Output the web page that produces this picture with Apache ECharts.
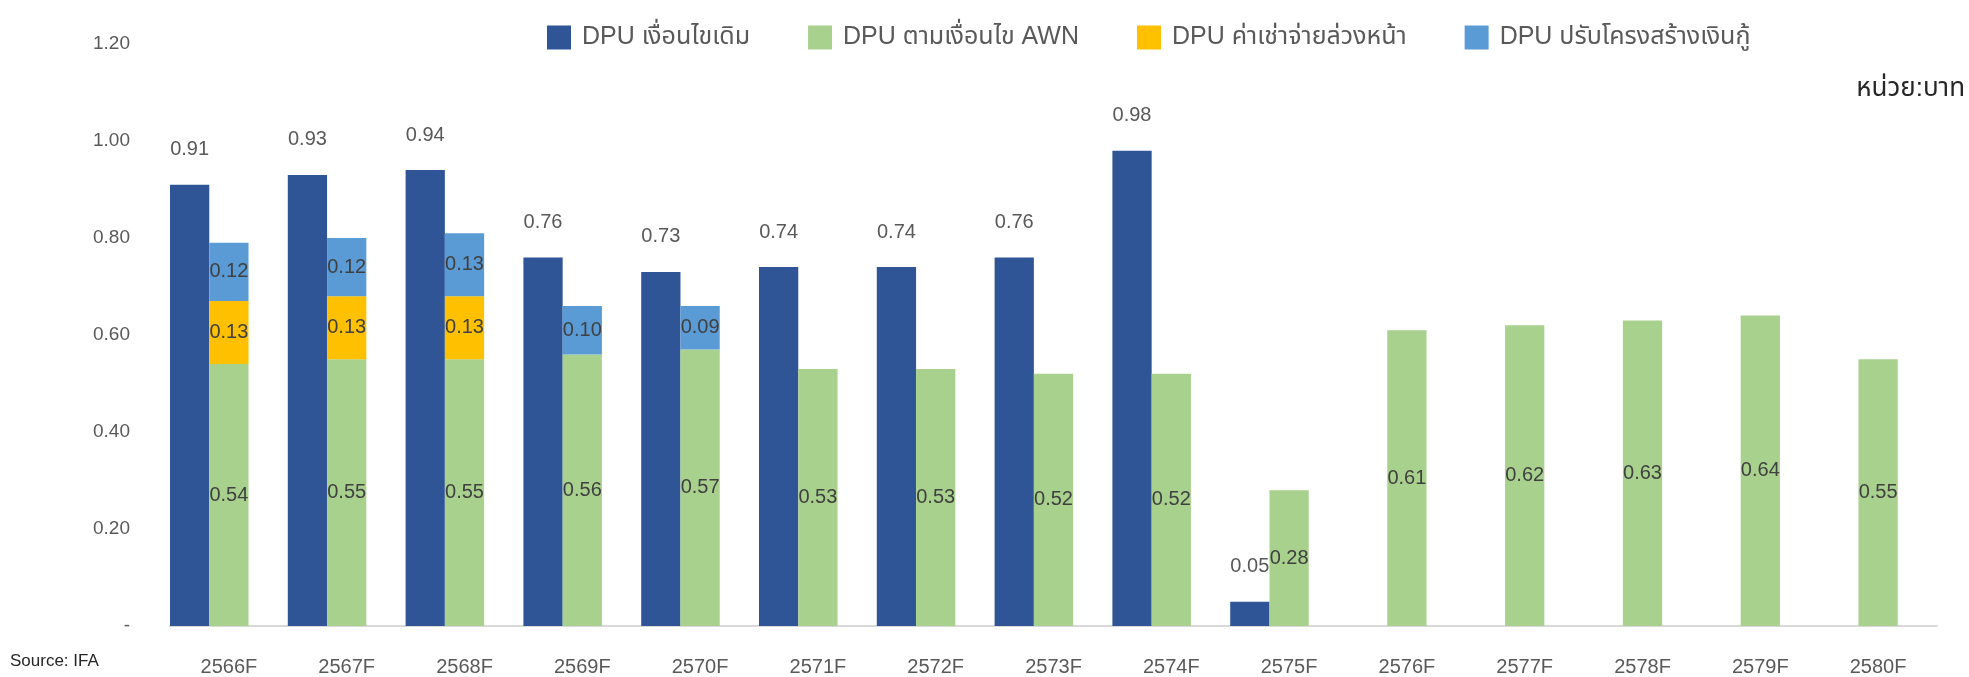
<!DOCTYPE html>
<html>
<head>
<meta charset="utf-8">
<script src="https://cdn.jsdelivr.net/npm/echarts@6/dist/echarts.min.js"></script>
<style>
  html, body { margin: 0; padding: 0; background: #ffffff; }
  #chart { width: 1969px; height: 677px; }
</style>
</head>
<body>
<div id="chart"></div>
<script>
const categories = ['2566F','2567F','2568F','2569F','2570F','2571F','2572F','2573F','2574F','2575F','2576F','2577F','2578F','2579F','2580F'];
const seriesNames = ['DPU เงื่อนไขเดิม', 'DPU ตามเงื่อนไข AWN', 'DPU ค่าเช่าจ่ายล่วงหน้า', 'DPU ปรับโครงสร้างเงินกู้'];
const dpuOriginal = [0.91, 0.93, 0.94, 0.76, 0.73, 0.74, 0.74, 0.76, 0.98, 0.05, null, null, null, null, null];
const dpuAWN = [0.54, 0.55, 0.55, 0.56, 0.57, 0.53, 0.53, 0.52, 0.52, 0.28, 0.61, 0.62, 0.63, 0.64, 0.55];
const dpuPrepaidRent = [0.13, 0.13, 0.13, null, null, null, null, null, null, null, null, null, null, null, null];
const dpuRestructure = [0.12, 0.12, 0.13, 0.10, 0.09, null, null, null, null, null, null, null, null, null, null];
const yTicks = [0, 0.2, 0.4, 0.6, 0.8, 1.0, 1.2];
const unitText = 'หน่วย:บาท';
const sourceText = 'Source: IFA';

const FONT = "'Liberation Sans', 'Noto Sans Thai', 'Noto Sans', sans-serif";
const fmt = p => (p.value == null ? '' : Number(p.value).toFixed(2));

const chart = echarts.init(document.getElementById('chart'), null, { renderer: 'canvas' });

const insideLabel = {
  show: true, position: 'inside', formatter: fmt,
  color: '#404040', fontSize: 20, fontFamily: FONT
};

chart.setOption({
  animation: false,
  backgroundColor: '#ffffff',
  textStyle: { fontFamily: FONT },
  grid: { left: 170, right: 32, top: 44, bottom: 51, containLabel: false },
  legend: {
    data: seriesNames,
    left: 542, top: 20,
    itemWidth: 24, itemHeight: 24, itemGap: 58,
    icon: 'rect',
    textStyle: { fontSize: 25, color: '#595959', fontFamily: FONT, padding: [0, 0, 0, 6] }
  },
  xAxis: {
    type: 'category',
    data: categories,
    axisLine: { show: true, lineStyle: { color: '#d9d9d9', width: 2 } },
    axisTick: { show: false },
    axisLabel: { color: '#595959', fontSize: 20, margin: 31, fontFamily: FONT }
  },
  yAxis: {
    type: 'value',
    min: yTicks[0], max: yTicks[yTicks.length - 1], interval: 0.2,
    splitLine: { show: false },
    axisLine: { show: false },
    axisTick: { show: false },
    axisLabel: {
      color: '#595959', fontSize: 19, margin: 40, fontFamily: FONT,
      formatter: v => (v === 0 ? '-' : v.toFixed(2))
    }
  },
  series: [
    {
      name: seriesNames[0], type: 'bar', stack: 'orig',
      data: dpuOriginal,
      barGap: '0%', barCategoryGap: '0%',
      itemStyle: { color: '#2F5597' },
      label: { show: true, position: 'top', distance: 25, formatter: fmt, color: '#595959', fontSize: 20, fontFamily: FONT }
    },
    {
      name: seriesNames[1], type: 'bar', stack: 'new',
      data: dpuAWN,
      itemStyle: { color: '#A9D18E' },
      label: insideLabel
    },
    {
      name: seriesNames[2], type: 'bar', stack: 'new',
      data: dpuPrepaidRent,
      itemStyle: { color: '#FFC000' },
      label: insideLabel
    },
    {
      name: seriesNames[3], type: 'bar', stack: 'new',
      data: dpuRestructure,
      itemStyle: { color: '#5B9BD5' },
      label: insideLabel
    },
    {
      name: 'spacer', type: 'bar', stack: 'spacer',
      data: categories.map(() => null),
      itemStyle: { color: 'transparent' },
      silent: true
    }
  ],
  graphic: [
    {
      type: 'text', right: 4, top: 76,
      style: { text: unitText, fontSize: 26, fill: '#262626', fontFamily: FONT }
    },
    {
      type: 'text', left: 10, top: 653,
      style: { text: sourceText, fontSize: 17, fill: '#262626', fontFamily: FONT }
    }
  ]
});
</script>
</body>
</html>
